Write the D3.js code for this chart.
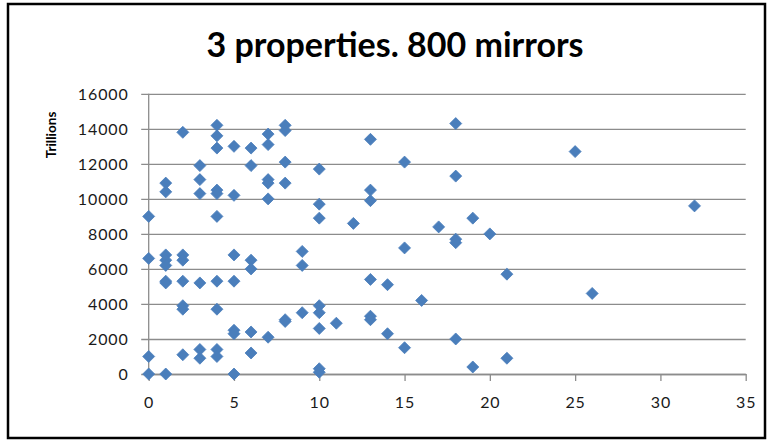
<!DOCTYPE html>
<html>
<head>
<meta charset="utf-8">
<script src="https://cdn.jsdelivr.net/npm/d3@7/dist/d3.min.js"></script>
<style>
  html, body { margin: 0; padding: 0; background: #fff; }
  svg { display: block; }
</style>
</head>
<body>
<svg id="chart" width="770" height="441"></svg>
<script>
// data, one entry per marker
const xVals = [
    0, 0, 0, 0,
    1, 1, 1, 1, 1, 1, 1, 1,
    2, 2, 2, 2, 2, 2, 2,
    3, 3, 3, 3, 3, 3,
    4, 4, 4, 4, 4, 4, 4, 4, 4, 4,
    5, 5, 5, 5, 5, 5, 5,
    6, 6, 6, 6, 6, 6,
    7, 7, 7, 7, 7, 7,
    8, 8, 8, 8, 8, 8,
    9, 9, 9,
    10, 10, 10, 10, 10, 10, 10, 10,
    11, 12,
    13, 13, 13, 13, 13, 13,
    14, 14,
    15, 15, 15,
    16, 17,
    18, 18, 18, 18, 18,
    19, 19,
    20,
    21, 21,
    25, 26, 32
];
const yVals = [
    9000, 6600, 1000, 0,
    10900, 10400, 6800, 6500, 6200, 5300, 5200, 0,
    13800, 6800, 6500, 5300, 3900, 3700, 1100,
    11900, 11100, 10300, 5200, 1400, 900,
    14200, 13600, 12900, 10500, 10300, 9000, 5300, 3700, 1400, 1000,
    13000, 10200, 6800, 5300, 2500, 2300, 0,
    12900, 11900, 6500, 6000, 2400, 1200,
    13700, 13100, 11100, 10900, 10000, 2100,
    14200, 13900, 12100, 10900, 3100, 3000,
    7000, 6200, 3500,
    11700, 9700, 8900, 3900, 3500, 2600, 300, 100,
    2900, 8600,
    13400, 10500, 9900, 5400, 3300, 3100,
    5100, 2300,
    12100, 7200, 1500,
    4200, 8400,
    14300, 11300, 7700, 7500, 2000,
    8900, 400,
    8000,
    5700, 900,
    12700, 4600, 9600
];
const xTicks = [0, 5, 10, 15, 20, 25, 30, 35];
const yTicks = [0, 2000, 4000, 6000, 8000, 10000, 12000, 14000, 16000];

const titleText = '3 properties. 800 mirrors';
const yTitle = 'Trillions';

const svg = d3.select('#chart');
const LEFT = 148.7, RIGHT = 745.7, TOP = 93.8, BOTTOM = 374;
const GRID = '#8c8c8c';
const MARK = '#4a7ebb';
const FONT = 'Lato, "Open Sans", sans-serif';

const x = d3.scaleLinear().domain([0, 35]).range([LEFT, RIGHT]);
const y = d3.scaleLinear().domain([0, 16000]).range([BOTTOM, TOP]);

// frame
svg.append('rect')
    .attr('x', 8).attr('y', 4)
    .attr('width', 757).attr('height', 434)
    .attr('fill', '#fff')
    .attr('stroke', '#000')
    .attr('stroke-width', 2.5);

svg.append('text')
    .attr('x', 395).attr('y', 57)
    .attr('text-anchor', 'middle')
    .attr('font-family', FONT)
    .attr('font-weight', 700)
    .attr('font-size', 34)
    .attr('fill', '#000')
    .text(titleText);

// y axis with gridlines
const yAxis = d3.axisLeft(y)
    .tickValues(yTicks)
    .tickSize(LEFT - RIGHT)
    .tickPadding(0)
    .tickFormat(d3.format('d'));

const gy = svg.append('g')
    .attr('transform', `translate(${LEFT},0)`)
    .call(yAxis);
gy.select('.domain').remove();
gy.selectAll('.tick line')
    .attr('x1', -7.5)
    .attr('stroke', GRID)
    .attr('stroke-width', 1.3);
gy.selectAll('.tick text')
    .attr('x', -20)
    .attr('dy', '0.36em')
    .attr('font-family', FONT)
    .attr('font-size', 16)
    .attr('letter-spacing', 0.9)
    .attr('fill', '#1a1a1a');

gy.append('line')
    .attr('y1', TOP).attr('y2', BOTTOM)
    .attr('stroke', GRID)
    .attr('stroke-width', 1.3);

// x axis
const xAxis = d3.axisBottom(x)
    .tickValues(xTicks)
    .tickSize(7)
    .tickSizeOuter(0)
    .tickPadding(0);

const gx = svg.append('g')
    .attr('transform', `translate(0,${BOTTOM})`)
    .call(xAxis);
gx.select('.domain')
    .attr('stroke', GRID)
    .attr('stroke-width', 1.3);
gx.selectAll('.tick line')
    .attr('stroke', GRID)
    .attr('stroke-width', 1.3);
gx.selectAll('.tick text')
    .attr('y', 34)
    .attr('dy', 0)
    .attr('font-family', FONT)
    .attr('font-size', 16)
    .attr('letter-spacing', 0.9)
    .attr('fill', '#1a1a1a');

svg.append('text')
    .attr('transform', 'translate(56,135) rotate(-90)')
    .attr('text-anchor', 'middle')
    .attr('font-family', FONT)
    .attr('font-weight', 700)
    .attr('font-size', 13.5)
    .attr('fill', '#000')
    .text(yTitle);

// diamond markers
const R = 6;
const diamond = `M0,${-R}L${R},0L0,${R}L${-R},0Z`;

svg.append('g')
    .selectAll('path')
    .data(d3.range(xVals.length))
    .join('path')
    .attr('d', diamond)
    .attr('transform', i => `translate(${x(xVals[i])},${y(yVals[i])})`)
    .attr('fill', MARK)
    .attr('stroke', MARK)
    .attr('stroke-width', 0.8);
</script>
</body>
</html>
